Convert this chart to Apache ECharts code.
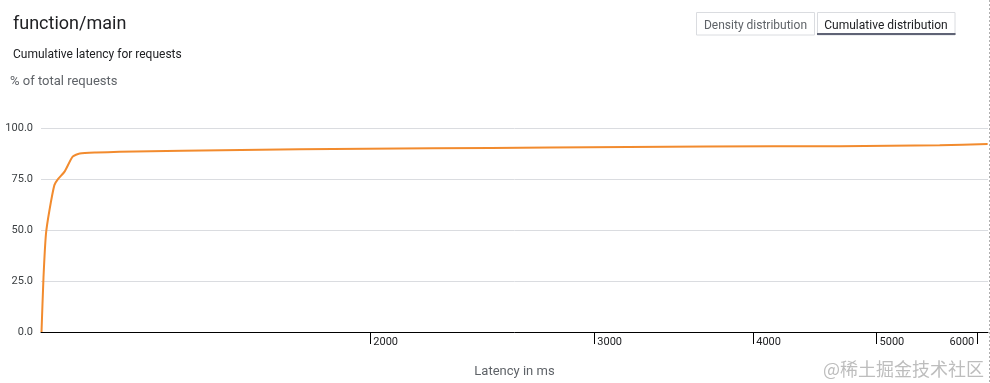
<!DOCTYPE html>
<html>
<head>
<meta charset="utf-8">
<script src="https://cdn.jsdelivr.net/npm/echarts@6/dist/echarts.min.js"></script>
<style>
html,body{margin:0;padding:0;background:#fff;}
#chart{width:990px;height:383px;}
</style>
</head>
<body>
<div id="chart"></div>
<script>
// Data
var latencyMs = [1103, 1107, 1112, 1119, 1129, 1136, 1150, 1167, 1182, 1218, 1270, 1423, 1760, 2239, 2767, 3677, 4677, 5606, 6114];
var cumulativePct = [0, 26.8, 48.2, 59.7, 72.0, 74.8, 78.6, 86.0, 87.5, 88.0, 88.3, 88.8, 89.6, 90.1, 90.4, 90.9, 91.1, 91.6, 92.1];
var xTickLabels = [2000, 3000, 4000, 5000, 6000];
var yTickLabels = [0, 25, 50, 75, 100];

var FONT = 'Roboto';
var seriesData = latencyMs.map(function (v, i) { return [v, cumulativePct[i]]; });

var chart = echarts.init(document.getElementById('chart'));
chart.setOption({
  animation: false,
  backgroundColor: '#ffffff',
  textStyle: { fontFamily: FONT },
  title: [
    { text: 'function/main', left: 8, top: 10, textStyle: { fontFamily: FONT, fontSize: 18, fontWeight: 'normal', color: '#202124' } },
    { text: 'Cumulative latency for requests', left: 8, top: 44, textStyle: { fontFamily: FONT, fontSize: 12, fontWeight: 'normal', color: '#202124' } },
    { text: '% of total requests', left: 5, top: 70, textStyle: { fontFamily: FONT, fontSize: 13, fontWeight: 'normal', color: '#5f6368' } }
  ],
  grid: { left: 41, right: 2, top: 128, bottom: 51, containLabel: false },
  xAxis: {
    type: 'log',
    logBase: 10,
    min: 1102,
    max: 6118,
    name: 'Latency in ms',
    nameLocation: 'middle',
    nameGap: 33,
    nameTextStyle: { fontFamily: FONT, fontSize: 13, color: '#5f6368' },
    axisLine: { show: true, lineStyle: { color: '#000000', width: 1 } },
    axisTick: { show: true, customValues: xTickLabels, length: 12, lineStyle: { color: '#000000', width: 1 } },
    axisLabel: {
      customValues: xTickLabels,
      fontFamily: FONT, fontSize: 11, color: '#202124',
      margin: 5, align: 'left', padding: [0, 3, 0, 3],
      alignMaxLabel: 'right',
      formatter: function (v) { return String(Math.round(v)); }
    },
    splitLine: { show: false },
    minorTick: { show: false }
  },
  yAxis: {
    type: 'value',
    min: 0,
    max: 100,
    interval: 25,
    axisLine: { show: false },
    axisTick: { show: false },
    axisLabel: {
      fontFamily: FONT, fontSize: 11, color: '#3c4043', margin: 8,
      formatter: function (v) { return v.toFixed(1); }
    },
    splitLine: { show: true, lineStyle: { color: '#dadce0', width: 1 } }
  },
  series: [{
    type: 'line',
    data: seriesData,
    showSymbol: false,
    symbol: 'none',
    smooth: 0.2,
    lineStyle: { color: '#f28b2e', width: 2 },
    itemStyle: { color: '#f28b2e' }
  }],
  graphic: [
    { type: 'rect', shape: { x: 696.5, y: 12.5, width: 118, height: 22.5 }, style: { fill: '#ffffff', stroke: '#dadce0', lineWidth: 1 } },
    { type: 'text', x: 755.5, y: 25.5, style: { text: 'Density distribution', fill: '#5f6368', font: '12px Roboto', textAlign: 'center', textVerticalAlign: 'middle' } },
    { type: 'rect', shape: { x: 817.5, y: 12.5, width: 137.5, height: 22.5 }, style: { fill: '#ffffff', stroke: '#dadce0', lineWidth: 1 } },
    { type: 'rect', shape: { x: 817, y: 33, width: 138.5, height: 2 }, style: { fill: '#5f6375' } },
    { type: 'text', x: 886, y: 25.5, style: { text: 'Cumulative distribution', fill: '#202124', font: '12px Roboto', textAlign: 'center', textVerticalAlign: 'middle' } },
    { type: 'line', shape: { x1: 989.5, y1: 0, x2: 989.5, y2: 383 }, style: { stroke: '#b0b0b0', lineWidth: 1, lineDash: [2, 2] } },
    { type: 'text', x: 984, y: 369, style: { text: '@稀土掘金技术社区', fill: '#bdbdbd', font: '18px "Noto Sans CJK SC"', textAlign: 'right', textVerticalAlign: 'middle' } }
  ]
});
</script>
</body>
</html>
